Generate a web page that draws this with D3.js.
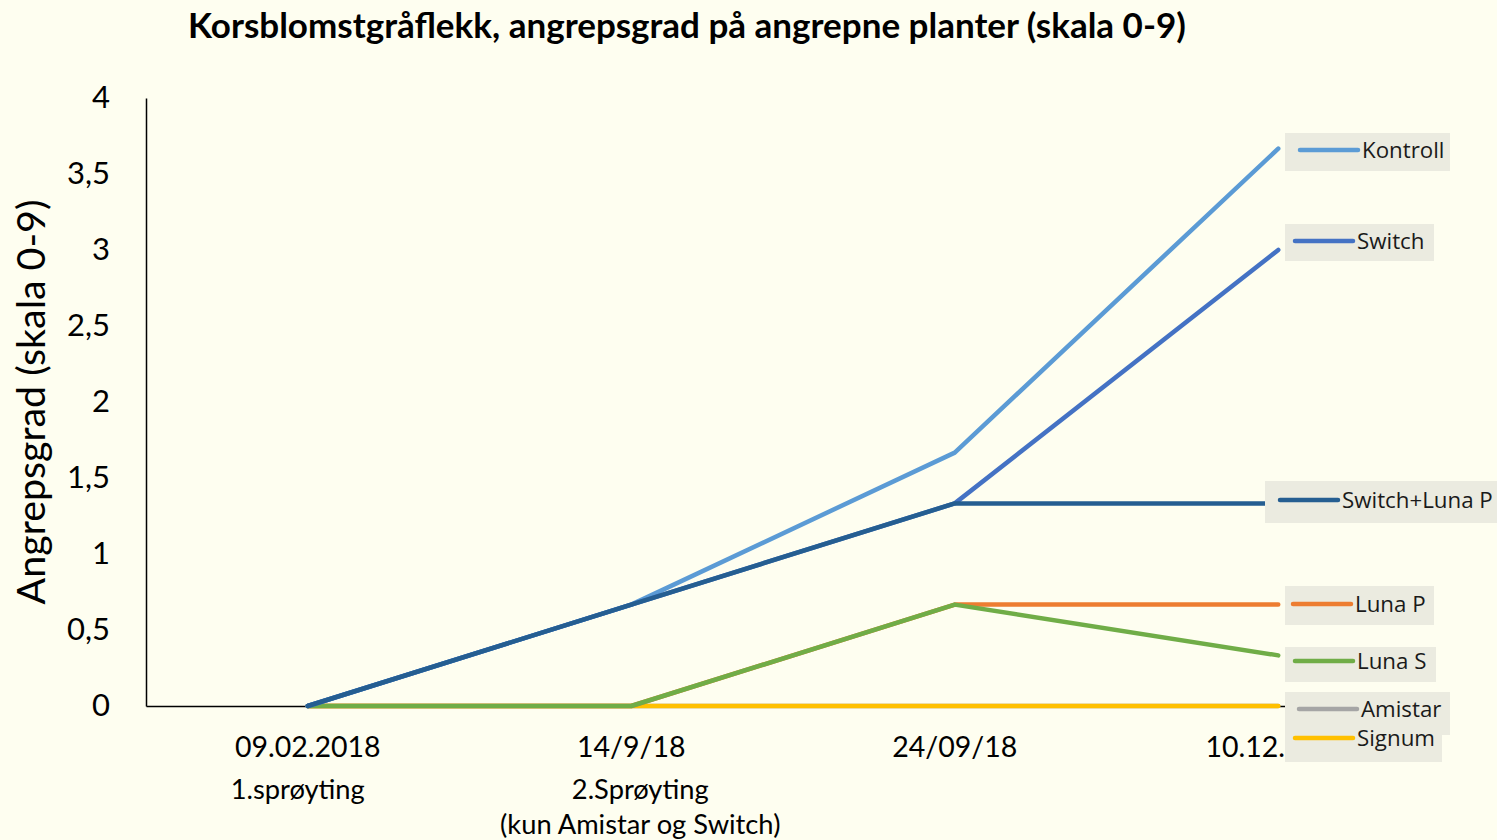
<!DOCTYPE html>
<html>
<head>
<meta charset="utf-8">
<script src="https://cdn.jsdelivr.net/npm/d3@7"></script>
<style>
  body { margin: 0; background: #fefef0; }
  svg { display: block; font-family: Lato, "Open Sans", sans-serif; }
</style>
</head>
<body>
<div id="chart"></div>
<script>
// Data
var dates = ["09.02.2018", "14/9/18", "24/09/18", "10.12.2018"];
var subLabels = [["1.sprøyting"], ["2.Sprøyting", "(kun Amistar og Switch)"], [], []];
var yTicks = [0, 0.5, 1, 1.5, 2, 2.5, 3, 3.5, 4];

var seriesNames = ["Amistar", "Signum", "Luna P", "Luna S", "Kontroll", "Switch", "Switch+Luna P"];
var amistar = [0, 0, 0, 0];
var signum = [0, 0, 0, 0];
var lunaP = [0, 0, 0.667, 0.667];
var lunaS = [0, 0, 0.667, 0.333];
var kontroll = [0, 0.667, 1.667, 3.667];
var switchV = [0, 0.667, 1.333, 3.0];
var switchLunaP = [0, 0.667, 1.333, 1.333];
var seriesColors = ["#a5a5a5", "#ffc000", "#ed7d31", "#70ad47", "#5b9bd5", "#4472c4", "#255e91"];

var series = [amistar, signum, lunaP, lunaS, kontroll, switchV, switchLunaP].map(function(v, i) {
    return { name: seriesNames[i], values: v, color: seriesColors[i] };
});

// legend boxes next to the line ends (order top to bottom)
var legendOrder = ["Kontroll", "Switch", "Switch+Luna P", "Luna P", "Luna S", "Amistar", "Signum"];
var legendBox = {
    "Kontroll":      { x: 1285, y: 133, w: 165, h: 38 },
    "Switch":        { x: 1285, y: 224, w: 149, h: 37 },
    "Switch+Luna P": { x: 1265, y: 481, w: 232, h: 42 },
    "Luna P":        { x: 1285, y: 586, w: 149, h: 39 },
    "Luna S":        { x: 1285, y: 647, w: 151, h: 35 },
    "Amistar":       { x: 1285, y: 692, w: 165, h: 43 },
    "Signum":        { x: 1285, y: 735, w: 157, h: 27 }
};
var legendSwatch = {
    "Kontroll": [1300, 150], "Switch": [1295, 241], "Switch+Luna P": [1280, 500],
    "Luna P": [1293, 604], "Luna S": [1295, 661], "Amistar": [1299, 709], "Signum": [1295, 738]
};

var svgWidth = 1497;
var svgHeight = 840;
var margin = { top: 98, right: 57, bottom: 134, left: 146 };
var width = svgWidth - margin.left - margin.right;
var height = svgHeight - margin.top - margin.bottom;

var svg = d3.select("#chart").append("svg")
    .attr("width", svgWidth).attr("height", svgHeight);

svg.append("rect").attr("width", svgWidth).attr("height", svgHeight).attr("fill", "#fefef0");

var chartGroup = svg.append("g")
    .attr("transform", `translate(${margin.left}, ${margin.top})`);

var xScale = d3.scaleBand().domain(dates).range([0, width]);
var yScale = d3.scaleLinear().domain([0, 4]).range([height, 0]);

// fit a text element to a target width
function fitWidth(sel, target) {
    var node = sel.node();
    var fs = parseFloat(sel.attr("font-size"));
    var w = node.getComputedTextLength();
    sel.attr("font-size", (fs * target / w).toFixed(2));
}

// title
var title = svg.append("text")
    .attr("x", 687).attr("y", 38)
    .attr("text-anchor", "middle")
    .attr("font-size", 28).attr("font-weight", "bold")
    .attr("fill", "#000")
    .text("Korsblomstgråflekk, angrepsgrad på angrepne planter (skala 0-9)");
fitWidth(title, 998);

// axes
var xAxis = chartGroup.append("g")
    .attr("transform", `translate(0, ${height})`)
    .call(d3.axisBottom(xScale).tickSize(0).tickPadding(31));
xAxis.select(".domain").attr("stroke", "#000").attr("stroke-width", 1.5);
xAxis.selectAll("text").attr("font-size", 28.5).attr("fill", "#000")
    .attr("font-family", "Lato, sans-serif");

var yAxis = chartGroup.append("g")
    .call(d3.axisLeft(yScale).tickValues(yTicks).tickSize(0).tickPadding(36)
        .tickFormat(function(d) { return String(d).replace(".", ","); }));
yAxis.select(".domain").attr("stroke", "#000").attr("stroke-width", 1.5);
yAxis.selectAll("text").attr("font-size", 31).attr("fill", "#000")
    .attr("font-family", "Lato, sans-serif");

// sub labels under x ticks
subLabels.forEach(function(lines, i) {
    lines.forEach(function(t, j) {
        chartGroup.append("text")
            .attr("x", xScale(dates[i]) + xScale.bandwidth() / 2 + (i === 0 ? -10 : 9))
            .attr("y", height + 93 + j * 35)
            .attr("text-anchor", "middle")
            .attr("font-size", 27.3)
            .attr("fill", "#000")
            .text(t);
    });
});

// y axis title
var yTitle = svg.append("text")
    .attr("transform", "translate(45, 402) rotate(-90)")
    .attr("text-anchor", "middle")
    .attr("font-size", 33)
    .attr("fill", "#000")
    .text("Angrepsgrad (skala 0-9)");
fitWidth(yTitle, 405);

// lines
var line = d3.line()
    .x(function(d, i) { return xScale(dates[i]) + xScale.bandwidth() / 2; })
    .y(function(d) { return yScale(d); });

chartGroup.selectAll(".series")
    .data(series)
    .enter().append("path")
    .attr("class", "series")
    .attr("d", function(d) { return line(d.values); })
    .attr("fill", "none")
    .attr("stroke", function(d) { return d.color; })
    .attr("stroke-width", 4.5)
    .attr("stroke-linejoin", "round")
    .attr("stroke-linecap", "round");

// legend labels
var legend = svg.append("g");
legendOrder.forEach(function(name) {
    var s = series.find(function(d) { return d.name === name; });
    var b = legendBox[name];
    var sw = legendSwatch[name];
    legend.append("rect")
        .attr("x", b.x).attr("y", b.y).attr("width", b.w).attr("height", b.h)
        .attr("fill", "#ebebe0");
    legend.append("line")
        .attr("x1", sw[0]).attr("x2", sw[0] + 58)
        .attr("y1", sw[1]).attr("y2", sw[1])
        .attr("stroke", s.color).attr("stroke-width", 4.5)
        .attr("stroke-linecap", "round");
    legend.append("text")
        .attr("x", sw[0] + 62).attr("y", sw[1] + 8)
        .attr("font-size", 22.3)
        .attr("font-family", "'Open Sans', sans-serif")
        .attr("fill", "#1a1a1a")
        .text(name);
});
</script>
</body>
</html>
